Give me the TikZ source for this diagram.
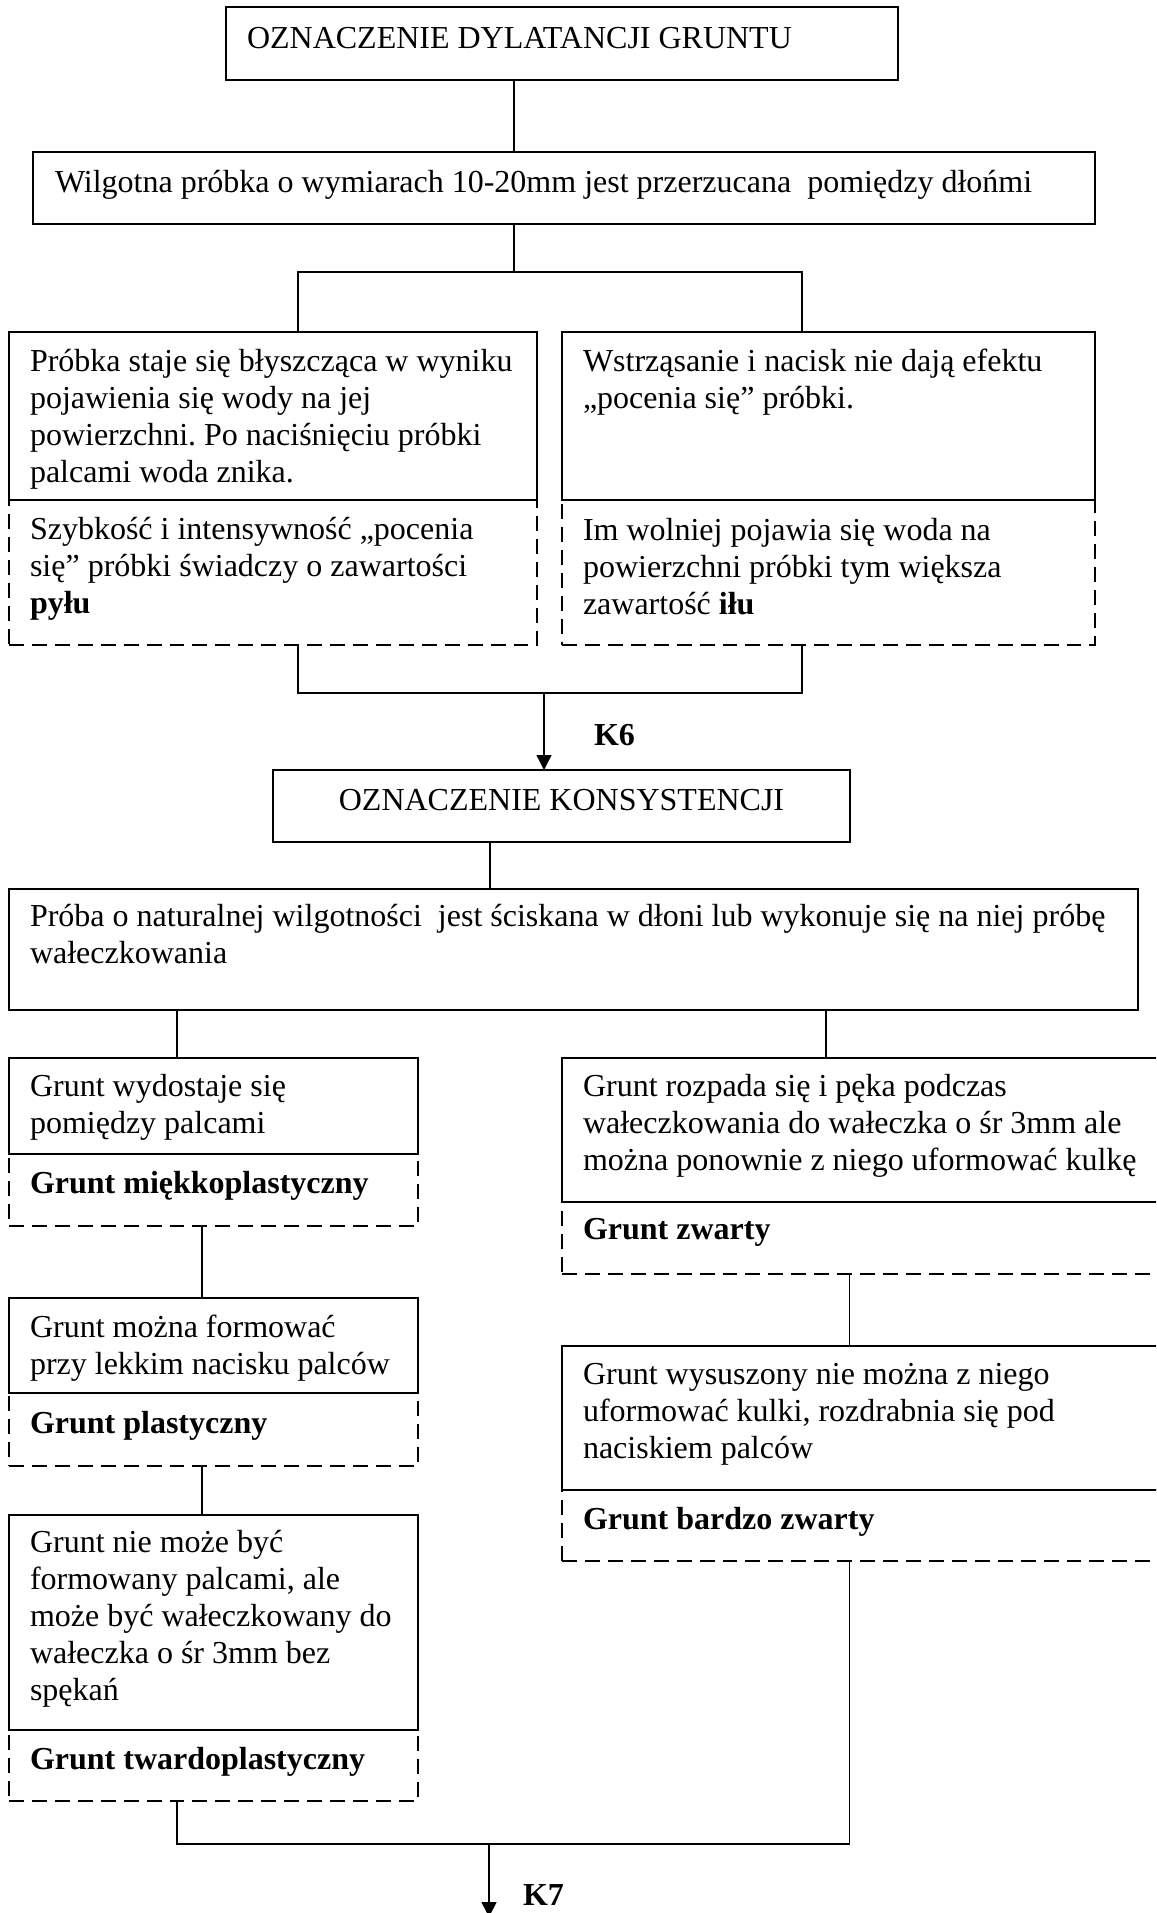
\documentclass[tikz,border=0pt]{standalone}
\usepackage{fontspec}
\setmainfont{Liberation Serif}
\usetikzlibrary{arrows.meta,fit}
\frenchspacing
\tikzset{
  bx/.style={draw, line width=0.8pt, rectangle, inner sep=0pt, outer sep=0pt},
  dbx/.style={bx, dash pattern=on 5.6pt off 3pt},
  conn/.style={line width=0.55pt},
  arr/.style={conn, -{Triangle[length=5.6pt,width=5.6pt]}},
  txt/.style={anchor=north west, inner sep=0pt, outer sep=0pt, align=left},
  lbl/.style={anchor=base west, inner sep=0pt, outer sep=0pt, font=\fontsize{12pt}{13.8pt}\selectfont\bfseries},
}
\begin{document}
\begin{tikzpicture}[x=0.375pt, y=-0.375pt, font=\fontsize{12pt}{13.8pt}\selectfont]
\useasboundingbox (0,0) rectangle (1156,1913);
\clip (0,0) rectangle (1156,1913);

% column / row coordinates for connectors
\coordinate (xab) at (514,0);
\coordinate (xl) at (298,0);
\coordinate (xr) at (802,0);
\coordinate (xk6) at (544,0);
\coordinate (xef) at (490,0);
\coordinate (xg) at (177,0);
\coordinate (xj) at (826,0);
\coordinate (xh) at (202,0);
\coordinate (xk) at (849.5,0);
\coordinate (xk7) at (489,0);
\coordinate (ys) at (0,272);
\coordinate (yj) at (0,693);
\coordinate (yb) at (0,1844);
\coordinate (k7end) at (489,1917);

% boxes
\node[bx, fit={(226,7)(898,80)}] (a) {};
\node[bx, fit={(33,152)(1095,224)}] (b) {};
\node[bx, fit={(9,332)(537,500)}] (c1) {};
\node[dbx, fit={(9,500)(537,645)}] (c2) {};
\node[bx, fit={(562,332)(1095,500)}] (d1) {};
\node[dbx, fit={(562,500)(1095,645)}] (d2) {};
\node[bx, fit={(273,770)(850,842)}] (e) {};
\node[bx, fit={(9,889)(1138,1010)}] (f) {};
\node[bx, fit={(9,1058)(418,1154)}] (g1) {};
\node[dbx, fit={(9,1154)(418,1226)}] (g2) {};
\node[bx, fit={(9,1298)(418,1393)}] (h1) {};
\node[dbx, fit={(9,1393)(418,1466)}] (h2) {};
\node[bx, fit={(9,1515)(418,1730)}] (i1) {};
\node[dbx, fit={(9,1730)(418,1801)}] (i2) {};
\node[bx, fit={(562,1058)(1175,1202)}] (j1) {};
\node[dbx, fit={(562,1202)(1175,1274)}] (j2) {};
\node[bx, fit={(562,1346)(1175,1490)}] (k1) {};
\node[dbx, fit={(562,1490)(1175,1561)}] (k2) {};

% texts
\node[txt] (at) at (247,23.2) {\strut OZNACZENIE DYLATANCJI GRUNTU};
\node[txt] (bt) at (55,167.2) {\strut Wilgotna próbka o wymiarach 10-20mm jest przerzucana\ \ pomiędzy dłońmi};
\node[txt] (c1t) at (30,346.2) {\strut Próbka staje się błyszcząca w wyniku\\pojawienia się wody na jej\\powierzchni. Po naciśnięciu próbki\\palcami woda znika.};
\node[txt] (c2t) at (30,514.2) {\strut Szybkość i intensywność „pocenia\\się” próbki świadczy o zawartości\\\textbf{pyłu}};
\node[txt] (d1t) at (583,346.2) {\strut Wstrząsanie i nacisk nie dają efektu\\„pocenia się” próbki.};
\node[txt] (d2t) at (583,515.2) {\strut Im wolniej pojawia się woda na\\powierzchni próbki tym większa\\zawartość \textbf{iłu}};
\node[anchor=base, inner sep=0pt] (et) at (561.5,810) {OZNACZENIE KONSYSTENCJI};
\node[txt] (ft) at (30,901.2) {\strut Próba o naturalnej wilgotności\ \ jest ściskana w dłoni lub wykonuje się na niej próbę\\wałeczkowania};
\node[txt] (g1t) at (30,1071.2) {\strut Grunt wydostaje się\\pomiędzy palcami};
\node[txt] (g2t) at (30,1168.2) {\strut\textbf{Grunt miękkoplastyczny}};
\node[txt] (h1t) at (30,1312.2) {\strut Grunt można formować\\przy lekkim nacisku palców};
\node[txt] (h2t) at (30,1408.2) {\strut\textbf{Grunt plastyczny}};
\node[txt] (i1t) at (30,1527.2) {\strut Grunt nie może być\\formowany palcami, ale\\może być wałeczkowany do\\wałeczka o śr 3mm bez\\spękań};
\node[txt] (i2t) at (30,1744.2) {\strut\textbf{Grunt twardoplastyczny}};
\node[txt] (j1t) at (583,1071.2) {\strut Grunt rozpada się i pęka podczas\\wałeczkowania do wałeczka o śr 3mm ale\\można ponownie z niego uformować kulkę};
\node[txt] (j2t) at (583,1214.2) {\strut\textbf{Grunt zwarty}};
\node[txt] (k1t) at (583,1359.2) {\strut Grunt wysuszony nie można z niego\\uformować kulki, rozdrabnia się pod\\naciskiem palców};
\node[txt] (k2t) at (583,1504.2) {\strut\textbf{Grunt bardzo zwarty}};

% labels
\node[lbl] (k6) at (594,745) {K6};
\node[lbl] (k7) at (523,1905) {K7};

% connectors
\draw[conn] (a.south -| xab) -- (b.north -| xab);
\draw[conn] (b.south -| xab) -- (xab |- ys);
\draw[conn] (c1.north -| xl) |- (xr |- ys) -- (d1.north -| xr);
\draw[conn] (c2.south -| xl) |- (xr |- yj) -- (d2.south -| xr);
\draw[arr] (xk6 |- yj) -- (e.north -| xk6);
\draw[conn] (e.south -| xef) -- (f.north -| xef);
\draw[conn] (f.south -| xg) -- (g1.north -| xg);
\draw[conn] (f.south -| xj) -- (j1.north -| xj);
\draw[conn] (g2.south -| xh) -- (h1.north -| xh);
\draw[conn] (h2.south -| xh) -- (i1.north -| xh);
\draw[conn] (j2.south -| xk) -- (k1.north -| xk);
\draw[conn] (i2.south -| xg) |- (xk |- yb) -- (k2.south -| xk);
\draw[arr] (xk7 |- yb) -- (k7end);
\end{tikzpicture}
\end{document}
